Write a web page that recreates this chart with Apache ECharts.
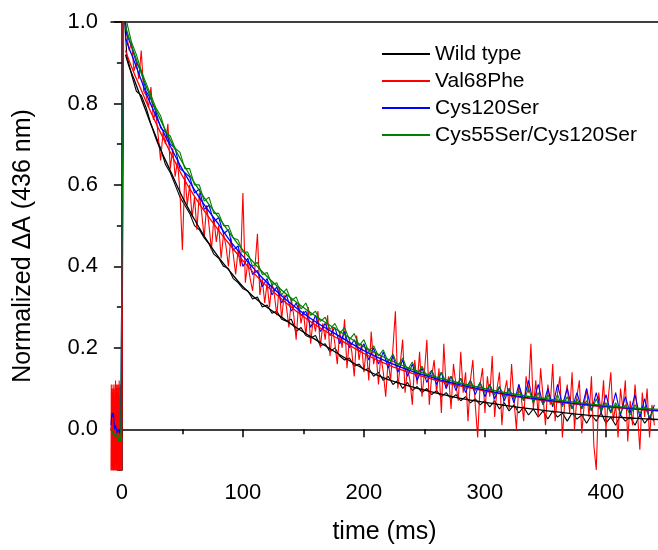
<!DOCTYPE html>
<html>
<head>
<meta charset="utf-8">
<script src="https://cdn.jsdelivr.net/npm/echarts@6/dist/echarts.min.js"></script>
<style>html,body{margin:0;padding:0;background:#fff}#c{width:658px;height:550px}</style>
</head>
<body>
<div id="c"></div>
<script>
// ---- data ----
const seriesNames = ['Wild type', 'Val68Phe', 'Cys120Ser', 'Cys55Ser/Cys120Ser'];
const time = [-9,-8.5,-8,-7.5,-7,-6.5,-6,-5.5,-5,-4.5,-4,-3.5,-3,-2.5,-2,-1.5,-1,0,1.5,
  4,8,12,16,20,24,28,32,36,40,44,48,52,56,60,64,68,72,76,80,84,88,92,96,100,
  104,108,112,116,120,124,128,132,136,140,144,148,152,156,160,164,168,172,176,180,184,188,192,196,200,
  204,208,212,216,220,224,228,232,236,240,244,248,252,256,260,264,268,272,276,280,284,288,292,296,300,
  304,308,312,316,320,324,328,332,336,340,344,348,352,356,360,364,368,372,376,380,384,388,392,396,400,
  404,408,412,416,420,424,428,432,436,440];
const wildType = [0.0,0.01,-0.01,0.0,0.01,-0.005,0.0,0.01,-0.01,0.0,0.005,-0.01,0.0,0.01,-0.005,0.0,-0.01,0.0,1.05,
  0.92,0.87,0.83,0.82,0.79,0.75,0.72,0.69,0.65,0.63,0.60,0.57,0.55,0.53,0.50,0.49,0.47,0.455,0.43,0.42,0.40,0.395,0.37,0.36,0.345,
  0.34,0.32,0.325,0.30,0.305,0.285,0.29,0.27,0.265,0.27,0.24,0.25,0.23,0.225,0.23,0.205,0.21,0.19,0.2,0.18,0.17,0.175,0.155,0.16,0.145,
  0.15,0.13,0.14,0.12,0.13,0.11,0.12,0.10,0.115,0.095,0.105,0.09,0.10,0.085,0.095,0.08,0.09,0.075,0.085,0.07,0.08,0.065,0.075,0.06,0.07,
  0.055,0.07,0.05,0.065,0.045,0.06,0.04,0.055,0.035,0.05,0.03,0.045,0.025,0.045,0.03,0.04,0.02,0.04,0.025,0.035,0.015,0.035,0.02,0.04,0.015,
  0.03,0.01,0.035,0.02,0.03,0.01,0.035,0.015,0.03,0.02];
const timeRed = [-9,-8.75,-8.5,-8.25,-8,-7.75,-7.5,-7.25,-7,-6.75,-6.5,-6.25,-6,-5.75,-5.5,-5.25,-5,-4.75,-4.5,-4.25,
  -4,-3.75,-3.5,-3.25,-3,-2.75,-2.5,-2.25,-2,-1.75,-1.5,-1.25,-1,-0.75,-0.5,-0.25,0,1,
  2,4,6,8,10,12,14,16,18,20,22,24,26,28,30,32,34,36,38,40,42,44,46,48,50,52,54,56,58,60,62,64,66,68,70,72,74,76,78,80,
  82,84,86,88,90,92,94,96,98,100,102,104,106,108,110,112,114,116,118,120,122,124,126,128,130,132,134,136,138,140,
  142,144,146,148,150,152,154,156,158,160,162,164,166,168,170,172,174,176,178,180,182,184,186,188,190,192,194,196,198,200,
  202,204,206,208,210,212,214,216,218,220,222,224,226,228,230,232,234,236,238,240,242,244,246,248,250,252,254,256,258,260,
  262,264,266,268,270,272,274,276,278,280,282,284,286,288,290,292,294,296,298,300,302,304,306,308,310,312,314,316,318,320,
  322,324,326,328,330,332,334,336,338,340,342,344,346,348,350,352,354,356,358,360,362,364,366,368,370,372,374,376,378,380,
  382,384,386,388,390,392,394,396,398,400,402,404,406,408,410,412,414,416,418,420,422,424,426,428,430,432,434,436,438,440];
const val68Phe = [-0.12,0.11,-0.09,0.10,-0.12,0.09,-0.06,0.11,-0.12,0.10,-0.09,0.08,-0.12,0.11,-0.07,0.12,-0.12,0.10,
  -0.11,0.11,-0.12,0.09,-0.08,0.11,-0.12,0.10,-0.10,0.12,-0.12,0.08,-0.09,0.11,-0.12,0.10,-0.12,0.11,-0.12,1.05,
  1.02,0.97,0.93,0.95,0.88, 0.90,0.86,0.93,0.83,0.82, 0.79,0.84,0.76,0.78,0.72, 0.66,0.73,0.70,0.75,0.64,
  0.69,0.62,0.66,0.58,0.44, 0.63,0.55,0.60,0.52,0.57, 0.49,0.58,0.53,0.47,0.55, 0.50,0.44,0.52,0.46,0.50,
  0.42,0.48,0.45,0.40,0.47, 0.43,0.38,0.44,0.40,0.58, 0.36,0.41,0.37,0.34,0.40, 0.48,0.33,0.37,0.31,0.36,
  0.30,0.36,0.33,0.28,0.35, 0.27,0.33,0.30,0.25,0.32, 0.28,0.22,0.31,0.26,0.29, 0.23,0.30,0.21,0.27,0.24,
  0.29,0.20,0.26,0.22,0.28, 0.18,0.25,0.21,0.16,0.24, 0.20,0.27,0.15,0.22,0.19, 0.13,0.23,0.17,0.21,0.14,
  0.20,0.12,0.24,0.16,0.19, 0.11,0.18,0.14,0.08,0.17, 0.12,0.20,0.29,0.10,0.16, 0.22,0.09,0.15,0.12,0.06,
  0.17,0.11,0.19,0.08,0.14, 0.22,0.06,0.13,0.17,0.09, 0.15,0.04,0.21,0.10,0.13, 0.05,0.16,0.11,0.07,0.19,
  0.09,0.14,0.02,0.12,0.17, 0.06,-0.02,0.11,0.15,0.04, 0.13,0.08,0.18,0.03,0.10, 0.14,0.01,0.09,0.12,0.05,
  0.16,0.07,0.00,0.11,0.08, 0.02,0.13,0.09,0.21,0.05, 0.12,0.03,0.15,0.08,0.01, 0.11,0.06,0.16,0.02,0.09,
  0.13,-0.02,0.07,0.11,0.04, 0.14,0.00,0.08,0.12,-0.01, 0.06,0.10,0.03,0.13,-0.04, -0.10,0.09,0.04,0.12,0.00,
  0.08,0.14,0.02,0.06,-0.02, 0.10,0.05,0.12,-0.03,0.07, 0.01,0.11,0.04,-0.05,0.09, 0.03,0.10,-0.02,0.06,0.01];
const cys120Ser = [0.01,0.035,0.04,0.03,0.04,0.02,0.0,0.01,0.005,0.0,-0.01,0.0,-0.005,0.0,-0.01,0.0,-0.01,-0.01,1.05,
  0.97,0.94,0.90,0.88,0.83,0.81,0.78,0.74,0.73,0.70,0.69,0.64,0.63,0.62,0.58,0.59,0.54,0.55,0.51,0.52,0.48,0.49,0.44,0.45,0.40,
  0.42,0.38,0.39,0.35,0.37,0.33,0.35,0.31,0.33,0.29,0.31,0.28,0.29,0.25,0.28,0.24,0.26,0.23,0.25,0.21,0.24,0.20,0.22,0.19,0.21,
  0.17,0.20,0.16,0.19,0.15,0.18,0.14,0.17,0.13,0.16,0.12,0.15,0.115,0.145,0.11,0.14,0.10,0.13,0.095,0.125,0.09,0.12,0.085,0.115,0.08,
  0.11,0.075,0.105,0.07,0.10,0.065,0.11,0.07,0.12,0.065,0.11,0.06,0.10,0.055,0.11,0.06,0.10,0.05,0.09,0.05,0.10,0.045,0.09,0.04,0.085,
  0.04,0.09,0.035,0.08,0.04,0.085,0.03,0.075,0.025,0.06];
const cys55Cys120 = [0.0,0.0,-0.005,-0.01,-0.01,-0.015,-0.01,-0.02,-0.01,-0.015,-0.02,-0.01,-0.03,-0.02,-0.025,-0.02,-0.03,-0.03,1.05,
  1.0,0.95,0.92,0.88,0.85,0.82,0.79,0.77,0.73,0.72,0.69,0.68,0.64,0.64,0.60,0.60,0.56,0.57,0.53,0.53,0.50,0.50,0.47,0.465,0.435,
  0.435,0.40,0.41,0.38,0.385,0.355,0.36,0.33,0.345,0.315,0.325,0.295,0.31,0.28,0.29,0.265,0.275,0.245,0.26,0.235,0.25,0.22,0.235,0.205,0.22,
  0.19,0.205,0.18,0.195,0.165,0.185,0.155,0.175,0.145,0.165,0.135,0.155,0.13,0.145,0.12,0.14,0.115,0.13,0.105,0.125,0.10,0.12,0.095,0.115,0.09,
  0.11,0.085,0.105,0.08,0.10,0.075,0.095,0.07,0.10,0.065,0.09,0.06,0.085,0.06,0.085,0.055,0.08,0.05,0.075,0.05,0.07,0.045,0.075,0.045,0.065,
  0.04,0.065,0.04,0.06,0.035,0.06,0.04,0.055,0.03,0.05];
const fitTime = [3,6,10,15,20,25,30,40,50,60,70,80,90,100,115,130,145,160,180,200,220,240,260,280,300,325,350,375,400,425,443];
const fitWild = [0.92,0.89,0.86,0.82,0.78,0.74,0.70,0.635,0.57,0.515,0.465,0.422,0.385,0.35,0.31,0.279,0.248,0.22,0.183,0.148,0.122,0.104,0.089,0.076,0.066,0.055,0.046,0.037,0.031,0.027,0.024];
const fitVal = [0.93,0.905,0.875,0.84,0.805,0.772,0.74,0.68,0.622,0.572,0.528,0.488,0.45,0.414,0.365,0.325,0.288,0.256,0.22,0.186,0.158,0.137,0.12,0.106,0.094,0.08,0.07,0.062,0.055,0.049,0.045];
const fitCys120 = [0.96,0.935,0.905,0.865,0.825,0.79,0.757,0.695,0.638,0.588,0.543,0.503,0.46,0.425,0.375,0.333,0.296,0.264,0.228,0.193,0.165,0.142,0.124,0.109,0.096,0.082,0.072,0.063,0.056,0.05,0.046];
const fitDouble = [0.99,0.96,0.925,0.882,0.842,0.805,0.772,0.71,0.655,0.605,0.56,0.52,0.478,0.44,0.39,0.347,0.31,0.278,0.24,0.203,0.172,0.147,0.128,0.113,0.1,0.086,0.075,0.066,0.058,0.052,0.049];
const xMajor = [0,100,200,300,400];
const xMinor = [50,150,250,350];
const yMajor = [0,0.2,0.4,0.6,0.8,1.0];
const yMinor = [-0.1,0.1,0.3,0.5,0.7,0.9];

// ---- chart ----
const colors = ['#000000', '#ff0000', '#0000ff', '#008000'];
const FONT = '"Liberation Sans", Arial, sans-serif';
const dataSets = [wildType, val68Phe, cys120Ser, cys55Cys120];
const dataTimes = [time, timeRed, time, time];
const fitSets = [fitWild, fitVal, fitCys120, fitDouble];
const pair = (xs, ys) => xs.map((x, i) => [x, ys[i]]);

const series = [];
dataSets.forEach((d, k) => series.push({
  name: seriesNames[k], type: 'line', data: pair(dataTimes[k], d), showSymbol: false, symbol: 'none',
  color: colors[k],
  lineStyle: { color: colors[k], width: 1.1 }, itemStyle: { color: colors[k], borderColor: colors[k] }, animation: false, z: 2
}));
fitSets.forEach((d, k) => series.push({
  name: seriesNames[k], type: 'line', data: pair(fitTime, d), showSymbol: false, symbol: 'none', smooth: 0.3,
  color: colors[k],
  lineStyle: { color: colors[k], width: 1.3 }, itemStyle: { color: colors[k], borderColor: colors[k] }, animation: false, z: 3
}));

const axisCommon = { axisLine: { lineStyle: { color: '#000', width: 1.5 } } };
const option = {
  animation: false,
  backgroundColor: '#fff',
  color: colors,
  textStyle: { fontFamily: FONT },
  grid: { left: 111, right: 0, top: 22, bottom: 78, containLabel: false },
  legend: {
    data: seriesNames.map((n, k) => ({
      name: n, icon: 'rect',
      itemStyle: { color: colors[k], borderColor: colors[k], borderWidth: 0 }
    })),
    orient: 'vertical', left: 382, top: 43.5, padding: 0, itemGap: 6,
    itemWidth: 48, itemHeight: 2,
    textStyle: { fontFamily: FONT, fontSize: 21, color: '#000', lineHeight: 21 }
  },
  xAxis: [
    { type: 'value', min: -9, max: 443, position: 'bottom', ...axisCommon,
      splitLine: { show: false },
      axisTick: { show: true, inside: false, length: 8, customValues: xMajor, lineStyle: { color: '#000', width: 1.5 } },
      axisLabel: { customValues: xMajor, fontSize: 22, color: '#000', margin: 12, fontFamily: FONT },
      name: 'time (ms)', nameLocation: 'middle', nameGap: 50,
      nameTextStyle: { fontSize: 25, color: '#000', fontFamily: FONT } },
    { type: 'value', min: -9, max: 443, position: 'bottom', axisLine: { show: false },
      splitLine: { show: false },
      axisTick: { show: true, inside: false, length: 5, customValues: xMinor, lineStyle: { color: '#000', width: 1.5 } },
      axisLabel: { show: false } },
    { type: 'value', min: -9, max: 443, position: 'top', ...axisCommon,
      splitLine: { show: false }, axisTick: { show: false }, axisLabel: { show: false } }
  ],
  yAxis: [
    { type: 'value', min: -0.1, max: 1.0, position: 'left', ...axisCommon,
      splitLine: { show: false },
      axisTick: { show: true, inside: false, length: 8, customValues: yMajor, lineStyle: { color: '#000', width: 1.5 } },
      axisLabel: { customValues: yMajor, fontSize: 22, color: '#000', margin: 13, fontFamily: FONT,
        formatter: v => v.toFixed(1) },
      name: 'Normalized \u0394A (436 nm)', nameLocation: 'middle', nameGap: 75,
      nameTextStyle: { fontSize: 25, color: '#000', fontFamily: FONT } },
    { type: 'value', min: -0.1, max: 1.0, position: 'left', axisLine: { show: false },
      splitLine: { show: false },
      axisTick: { show: true, inside: false, length: 5, customValues: yMinor, lineStyle: { color: '#000', width: 1.5 } },
      axisLabel: { show: false } }
  ],
  series: series
};
const chart = echarts.init(document.getElementById('c'), null, { renderer: 'canvas' });
chart.setOption(option);
</script>
</body>
</html>
